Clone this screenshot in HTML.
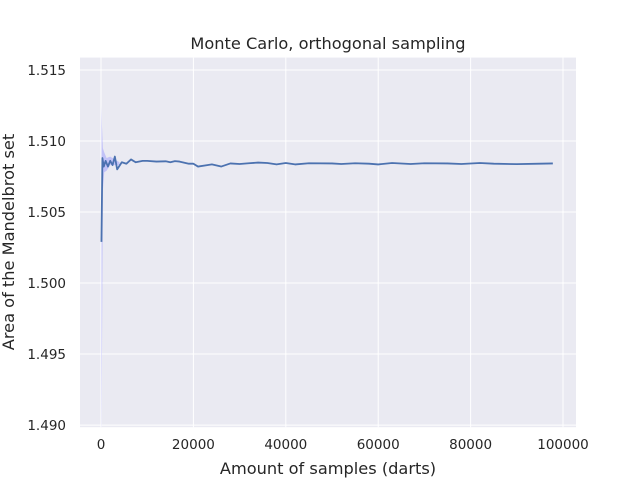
<!DOCTYPE html>
<html><head><meta charset="utf-8"><style>
body{margin:0;background:#fff;}
svg text{font-family:"DejaVu Sans","Liberation Sans",sans-serif;fill:#262626;}
</style></head><body>
<svg id="chart" width="640" height="480" xmlns="http://www.w3.org/2000/svg">
<rect x="80" y="57.6" width="496" height="369.6" fill="#eaeaf2"/>
<g id="grid"></g>
<clipPath id="clip"><rect x="80" y="57.6" width="496" height="369.6"/></clipPath>
<g id="marks" clip-path="url(#clip)"></g>
<g id="ticks"></g>
<text x="328" y="49" font-size="16.2" text-anchor="middle">Monte Carlo, orthogonal sampling</text>
<text x="328" y="474" font-size="16.2" text-anchor="middle">Amount of samples (darts)</text>
<text transform="translate(14,242) rotate(-90)" font-size="16.2" text-anchor="middle">Area of the Mandelbrot set</text>
</svg>
<script>
const xTicks=[0,20000,40000,60000,80000,100000];
const yTicks=[1.490,1.495,1.500,1.505,1.510,1.515];
const samples=[100,300,600,1000,1500,2000,2500,3000,3500,4500,5500,6500,7500,9000,10000,12000,14000,15000,16000,17000,19000,20000,21000,23000,24000,26000,28000,30000,32000,34000,36000,38000,40000,42000,45000,50000,52000,55000,58000,60000,63000,67000,70000,75000,78000,82000,85000,90000,95000,97800];
const area=[1.5029,1.5088,1.5082,1.5086,1.5082,1.5086,1.5083,1.5089,1.5080,1.5085,1.5084,1.5087,1.5085,1.5086,1.5086,1.50855,1.50857,1.5085,1.50858,1.50855,1.5084,1.5084,1.5082,1.5083,1.50835,1.5082,1.50842,1.50838,1.50843,1.50848,1.50845,1.50835,1.50845,1.50835,1.50843,1.50842,1.50838,1.50843,1.5084,1.50835,1.50845,1.50838,1.50843,1.50842,1.50838,1.50845,1.5084,1.50837,1.5084,1.50842];
const bandX=[100,200,400,700,1200,2000,4000];
const bandHi=[1.5125,1.5112,1.5095,1.5092,1.5088,1.5089,1.5085];
const bandLo=[1.488,1.494,1.5065,1.5078,1.5079,1.5083,1.5083];
const X=v=>80+(v+4545)/(107355)*496;
const Y=v=>57.6+(1.51587-v)/(1.51587-1.48985)*369.6;
const NS="http://www.w3.org/2000/svg";
const grid=document.getElementById('grid'),ticks=document.getElementById('ticks'),marks=document.getElementById('marks');
function mk(tag,attrs,parent){const e=document.createElementNS(NS,tag);for(const k in attrs)e.setAttribute(k,attrs[k]);parent.appendChild(e);return e;}
xTicks.forEach(t=>{
 const l=mk('line',{x1:X(t),x2:X(t),y1:57.6,y2:427.2,stroke:'#fff','stroke-width':1},grid);
 
 
 const tx=mk('text',{x:X(t),y:449,'font-size':13.5,'text-anchor':'middle'},ticks);
 tx.textContent=t;
 
 
});
yTicks.forEach(t=>{
 const l=mk('line',{x1:80,x2:576,y1:Y(t),y2:Y(t),stroke:'#fff','stroke-width':1},grid);
 
 
 const tx=mk('text',{x:66,y:Y(t)+5,'font-size':13.5,'text-anchor':'end'},ticks);
 tx.textContent=t.toFixed(3);
 
 
});
let bp=bandX.map((x,i)=>X(x)+','+Y(bandHi[i])).join(' ')+' '+bandX.map((x,i)=>X(x)+','+Y(bandLo[i])).reverse().join(' ');
const band=mk('polygon',{points:bp,fill:'#8888ff','fill-opacity':0.4},marks);


const line=mk('polyline',{points:samples.map((x,i)=>X(x)+','+Y(area[i])).join(' '),fill:'none',stroke:'#4c72b0','stroke-width':1.8,'stroke-linejoin':'round'},marks);


</script>
</body></html>
